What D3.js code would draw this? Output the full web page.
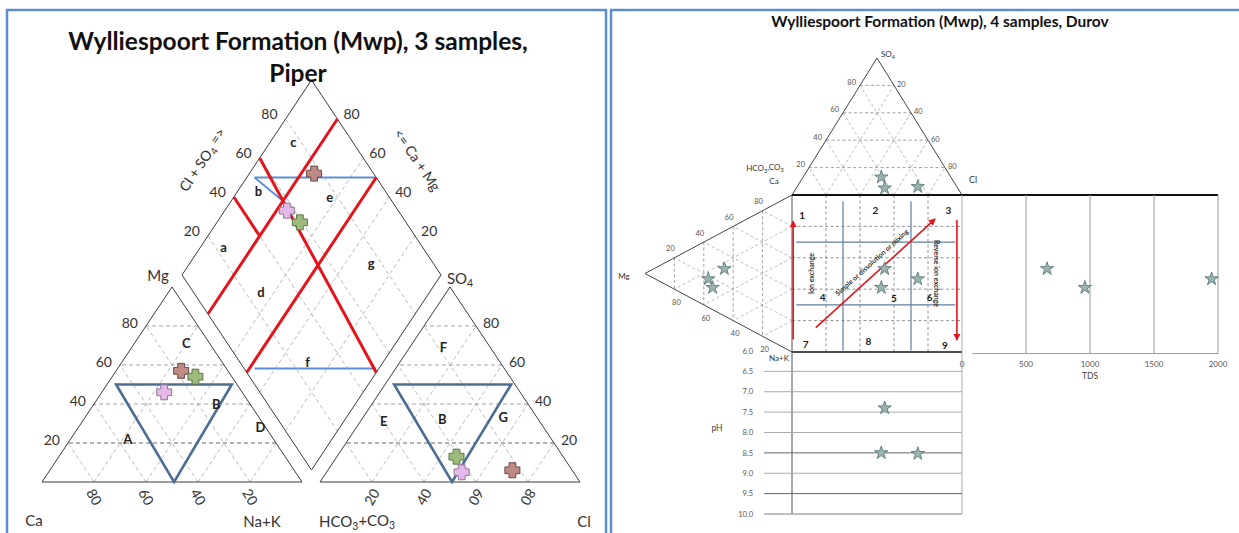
<!DOCTYPE html>
<html>
<head>
<meta charset="utf-8">
<script src="https://cdn.jsdelivr.net/npm/d3@7"></script>
<style>
  body { margin: 0; background: #fff; }
  text { font-family: Lato, "Open Sans", sans-serif; }
</style>
</head>
<body>
<script>
// ---------------- data ----------------
// three samples, same order everywhere: brown, green, pink
let sampleNames = ['brown', 'green', 'pink']
let caPct   = [18, 14, 30]
let mgPct   = [57, 54, 46]
let nakPct  = [25, 32, 24]
let hco3Pct = [23, 41, 43]
let so4Pct  = [6, 13, 5]
let clPct   = [71, 46, 52]
let tdsVals = [1950, 960, 665]
let phVals  = [8.52, 8.5, 7.4]

let gridPct = [20, 40, 60, 80]
let tdsTicks = [0, 500, 1000, 1500, 2000]
let phTicks = [6.0, 6.5, 7.0, 7.5, 8.0, 8.5, 9.0, 9.5, 10.0]

// Piper zone boundaries, diamond coords [Cl+SO4, Na+K] in %
let redLines = [
    [[0, 20], [100, 20]],
    [[0, 50], [100, 50]],
    [[40, 0], [40, 20]],
    [[60, 0], [50, 100]]
]
let blueLines = [
    [[53, 3], [100, 50]],
    [[4, 52], [51, 99]],
    [[53, 3], [58, 20]]
]
// inner triangles [Na+K or Cl, Mg or SO4]
let catTri = [[3.5, 50], [48, 50], [50.8, 0]]
let anTri = [[3.5, 50], [48.5, 50], [50.8, 0]]

// zone letters
let catZones = [['C', 20, 71], ['B', 47, 40], ['A', 22, 22], ['D', 70, 28]]
let anZones = [['F', 13, 69], ['E', 9, 31], ['B', 31, 32], ['G', 54, 33]]
let diaZones = [['c', 77, 9], ['b', 51, 8], ['e', 77, 37], ['a', 23, 9],
                ['g', 76, 70], ['d', 26, 35], ['f', 26, 71]]

// Durov square zones, [label, x%, y%]
let durZones = [['1', 6, 13], ['2', 49, 10], ['3', 92, 10], ['4', 18, 65], ['5', 60, 66],
                ['6', 81, 65], ['7', 8, 95], ['8', 45, 93], ['9', 90, 96]]

// ---------------- setup ----------------
let svgWidth = 1239
let svgHeight = 533
let svg = d3.select('body')
    .append('svg')
    .attr('width', svgWidth)
    .attr('height', svgHeight)

let markerFill = ['#bd8a84', '#9dbb7c', '#e3b9ea']
let markerStroke = ['#6e4c48', '#5d7549', '#927496']
let gridGrey = '#a8a8a8'
let edge = '#3a3a3a'

let line = d3.line()

// panel frames
svg.append('rect')
    .attr('x', 7).attr('y', 10).attr('width', 599).attr('height', 530)
    .attr('fill', 'none').attr('stroke', '#5b8fd2').attr('stroke-width', 2.5)
svg.append('path')
    .attr('d', line([[611, 540], [611, 10], [1239, 10]]))
    .attr('fill', 'none').attr('stroke', '#5b8fd2').attr('stroke-width', 2.5)

// text with subscripts: parts = [[txt, isSub], ...]
function richText(g, x, y, parts, size, anchor, rot) {
    let t = g.append('text')
        .attr('x', x).attr('y', y)
        .attr('font-size', size)
        .attr('fill', '#333')
        .attr('text-anchor', anchor || 'middle')
    if (rot) t.attr('transform', `rotate(${rot},${x},${y})`)
    let sub = false
    parts.forEach(p => {
        let ts = t.append('tspan').text(p[0])
        if (p[1] && !sub) { ts.attr('font-size', '70%').attr('dy', '0.3em'); sub = true }
        else if (!p[1] && sub) { ts.attr('dy', '-0.3em'); sub = false }
        else if (p[1]) ts.attr('font-size', '70%')
    })
    return t
}

// =================== PIPER ===================
let piper = svg.append('g')

let triY = d3.scaleLinear().domain([0, 100]).range([482, 287])
let catX = d3.scaleLinear().domain([0, 100]).range([42, 302])
let anX = d3.scaleLinear().domain([0, 100]).range([320, 580])
let diaX = d3.scaleLinear().domain([0, 200]).range([182, 441])
let diaY = d3.scaleLinear().domain([-100, 100]).range([80, 470])

let catPt = (nak, mg) => [catX(nak + mg / 2), triY(mg)]
let anPt = (cl, so4) => [anX(cl + so4 / 2), triY(so4)]
let diaPt = (s, t) => [diaX(s + t), diaY(t - s)]

// grids
function triGrid(pt) {
    gridPct.forEach(k => {
        piper.append('path').attr('d', line([pt(100 - k, k), pt(0, k)]))
            .attr('stroke', k == 20 ? '#555' : '#999').attr('stroke-dasharray', '4,3')
            .attr('stroke-width', 0.9).attr('fill', 'none')
        piper.append('path').attr('d', line([pt(k, 0), pt(k, 100 - k)]))
            .attr('stroke', gridGrey).attr('stroke-dasharray', '4,3')
            .attr('stroke-width', 0.8).attr('fill', 'none')
        piper.append('path').attr('d', line([pt(100 - k, 0), pt(0, 100 - k)]))
            .attr('stroke', gridGrey).attr('stroke-dasharray', '4,3')
            .attr('stroke-width', 0.8).attr('fill', 'none')
    })
    piper.append('path').attr('d', line([pt(0, 0), pt(100, 0), pt(0, 100)]) + 'Z')
        .attr('fill', 'none').attr('stroke', edge).attr('stroke-width', 1)
}
triGrid(catPt)
triGrid(anPt)

gridPct.forEach(k => {
    piper.append('path').attr('d', line([diaPt(k, 0), diaPt(k, 100)]))
        .attr('stroke', gridGrey).attr('stroke-dasharray', '4,3').attr('stroke-width', 0.8)
    piper.append('path').attr('d', line([diaPt(0, k), diaPt(100, k)]))
        .attr('stroke', gridGrey).attr('stroke-dasharray', '4,3').attr('stroke-width', 0.8)
})
piper.append('path')
    .attr('d', line([diaPt(0, 0), diaPt(100, 0), diaPt(100, 100), diaPt(0, 100)]) + 'Z')
    .attr('fill', 'none').attr('stroke', edge).attr('stroke-width', 1)

// inner blue triangles
piper.append('path').attr('d', line(catTri.map(d => catPt(d[0], d[1]))) + 'Z')
    .attr('fill', 'none').attr('stroke', '#4d6d92').attr('stroke-width', 2.6)
piper.append('path').attr('d', line(anTri.map(d => anPt(d[0], d[1]))) + 'Z')
    .attr('fill', 'none').attr('stroke', '#4d6d92').attr('stroke-width', 2.6)

// diamond zone lines
blueLines.forEach(l => {
    piper.append('path').attr('d', line(l.map(d => diaPt(d[0], d[1]))))
        .attr('stroke', '#5a8fd6').attr('stroke-width', 2).attr('fill', 'none')
})
redLines.forEach(l => {
    piper.append('path').attr('d', line(l.map(d => diaPt(d[0], d[1]))))
        .attr('stroke', '#e3141c').attr('stroke-width', 3).attr('fill', 'none')
})

// zone letters
function zoneText(list, pt) {
    list.forEach(z => {
        let p = pt(z[1], z[2])
        piper.append('text').attr('x', p[0]).attr('y', p[1]).attr('dy', '0.35em')
            .attr('text-anchor', 'middle').attr('font-size', 13).attr('font-weight', 'bold')
            .attr('fill', '#222').text(z[0])
    })
}
zoneText(catZones, catPt)
zoneText(anZones, anPt)
zoneText(diaZones, diaPt)

// tick labels
gridPct.forEach(k => {
    let p = catPt(0, k)
    piper.append('text').attr('x', p[0] - 8).attr('y', p[1] - 3).attr('dy', '0.35em')
        .attr('text-anchor', 'end').attr('font-size', 14).attr('fill', '#333').text(k)
    p = anPt(100 - k, k)
    piper.append('text').attr('x', p[0] + 7).attr('y', p[1] - 3).attr('dy', '0.35em')
        .attr('text-anchor', 'start').attr('font-size', 14).attr('fill', '#333').text(k)
    // base labels
    p = catPt(100 - k, 0)
    piper.append('text').attr('transform', `translate(${p[0]},${p[1] + 15}) rotate(60)`)
        .attr('dy', '0.35em').attr('text-anchor', 'middle').attr('font-size', 14)
        .attr('fill', '#333').text(k)
    p = anPt(k, 0)
    piper.append('text').attr('transform', `translate(${p[0]},${p[1] + 15}) rotate(${k < 50 ? -60 : 120})`)
        .attr('dy', '0.35em').attr('text-anchor', 'middle').attr('font-size', 14)
        .attr('fill', '#333').text(k)
    // diamond edges
    p = diaPt(k, 0)
    piper.append('text').attr('x', p[0] - 8).attr('y', p[1] - 5).attr('dy', '0.35em')
        .attr('text-anchor', 'end').attr('font-size', 14).attr('fill', '#333').text(k)
    p = diaPt(100, 100 - k)
    piper.append('text').attr('x', p[0] + 6).attr('y', p[1] - 5).attr('dy', '0.35em')
        .attr('text-anchor', 'start').attr('font-size', 14).attr('fill', '#333').text(k)
})

// axis names
richText(piper, 203, 160, [['Cl + SO', 0], ['4', 1], [' =>', 0]], 14, 'middle', -56).attr('dy', '0.35em')
richText(piper, 417, 160, [['<= Ca + Mg', 0]], 14, 'middle', 56).attr('dy', '0.35em')
richText(piper, 158, 281, [['Mg', 0]], 15, 'middle')
richText(piper, 460, 284, [['SO', 0], ['4', 1]], 15, 'middle')
richText(piper, 34, 526, [['Ca', 0]], 15, 'middle')
richText(piper, 262, 527, [['Na+K', 0]], 15, 'middle')
richText(piper, 357, 527, [['HCO', 0], ['3', 1], ['+CO', 0], ['3', 1]], 15, 'middle')
richText(piper, 584, 527, [['Cl', 0]], 15, 'middle')

// titles
piper.append('text').attr('x', 298).attr('y', 50).attr('text-anchor', 'middle')
    .attr('font-size', 24.5).attr('font-weight', 'bold').attr('fill', '#111')
    .text('Wylliespoort Formation (Mwp), 3 samples,')
piper.append('text').attr('x', 298).attr('y', 82).attr('text-anchor', 'middle')
    .attr('font-size', 24.5).attr('font-weight', 'bold').attr('fill', '#111')
    .text('Piper')

// sample markers: chunky plus
let fatCross = {
    draw(ctx, size) {
        let r = Math.sqrt(size) / 2
        let a = r * 0.45
        ctx.moveTo(-r, -a); ctx.lineTo(-a, -a); ctx.lineTo(-a, -r); ctx.lineTo(a, -r)
        ctx.lineTo(a, -a); ctx.lineTo(r, -a); ctx.lineTo(r, a); ctx.lineTo(a, a)
        ctx.lineTo(a, r); ctx.lineTo(-a, r); ctx.lineTo(-a, a); ctx.lineTo(-r, a)
        ctx.closePath()
    }
}
let cross = d3.symbol().type(fatCross).size(225)
sampleNames.forEach((n, i) => {
    let pts = [
        catPt(nakPct[i], mgPct[i]),
        anPt(clPct[i], so4Pct[i]),
        diaPt(clPct[i] + so4Pct[i], nakPct[i])
    ]
    pts.forEach(p => {
        piper.append('path').attr('d', cross())
            .attr('transform', `translate(${p[0]},${p[1]})`)
            .attr('fill', markerFill[i]).attr('stroke', markerStroke[i]).attr('stroke-width', 1)
            .attr('stroke-linejoin', 'round')
    })
})

// =================== DUROV ===================
let durov = svg.append('g')

let durX = d3.scaleLinear().domain([0, 100]).range([792, 962])      // anion position across
let durTopY = d3.scaleLinear().domain([0, 100]).range([195, 58])    // SO4 up
let durY = d3.scaleLinear().domain([0, 100]).range([195, 352])      // cation position down
let durLeftX = d3.scaleLinear().domain([0, 100]).range([792, 645])  // Mg left
let tdsX = d3.scaleLinear().domain([0, 2000]).range([962, 1218])
let phY = d3.scaleLinear().domain([6, 10]).range([351, 514])

let topPt = (cl, so4) => [durX(cl + so4 / 2), durTopY(so4)]
let leftPt = (nak, mg) => [durLeftX(mg), durY(nak + mg / 2)]

function dash(g, pts, col, w) {
    g.append('path').attr('d', line(pts)).attr('fill', 'none')
        .attr('stroke', col || '#999').attr('stroke-width', w || 0.8)
        .attr('stroke-dasharray', '3,2.5')
}

gridPct.forEach(k => {
    dash(durov, [topPt(0, k), topPt(100 - k, k)], '#888')
    dash(durov, [topPt(k, 0), topPt(k, 100 - k)], '#aaa')
    dash(durov, [topPt(100 - k, 0), topPt(0, 100 - k)], '#aaa')
    dash(durov, [leftPt(0, k), leftPt(100 - k, k)], '#888')
    dash(durov, [leftPt(k, 0), leftPt(k, 100 - k)], '#aaa')
    dash(durov, [leftPt(100 - k, 0), leftPt(0, 100 - k)], '#aaa')
    // square
    dash(durov, [[durX(k), durY(0)], [durX(k), durY(100)]], '#777')
    dash(durov, [[durX(0), durY(k)], [durX(100), durY(k)]], '#777')
})

// triangle edges
durov.append('path').attr('d', line([topPt(0, 0), topPt(0, 100), topPt(100, 0)]))
    .attr('fill', 'none').attr('stroke', '#444').attr('stroke-width', 1)
durov.append('path').attr('d', line([leftPt(0, 0), leftPt(0, 100), leftPt(100, 0)]))
    .attr('fill', 'none').attr('stroke', '#444').attr('stroke-width', 1)

// zone blue lines at 30 / 70 %
let zoneCuts = [30, 70]
zoneCuts.forEach(k => {
    durov.append('path').attr('d', line([[durX(k), durY(4)], [durX(k), durY(99)]]))
        .attr('stroke', '#5d7f9e').attr('stroke-width', 1.2)
    durov.append('path').attr('d', line([[durX(2.5), durY(k)], [durX(96), durY(k)]]))
        .attr('stroke', '#5d7f9e').attr('stroke-width', 1.2)
})

// square frame, TDS and pH panels
durov.append('path').attr('d', line([[durX(0), durY(0)], [tdsX(2000), durY(0)]]))
    .attr('stroke', '#111').attr('stroke-width', 1.8)
durov.append('path').attr('d', line([[durX(0), durY(100)], [durX(100), durY(100)]]))
    .attr('stroke', '#111').attr('stroke-width', 1.6)
durov.append('path').attr('d', line([[durX(0), durY(0)], [durX(0), phY(10)]]))
    .attr('stroke', '#555').attr('stroke-width', 1)
durov.append('path').attr('d', line([[durX(100), durY(0)], [durX(100), phY(10)]]))
    .attr('stroke', '#999').attr('stroke-width', 0.8)

tdsTicks.forEach(v => {
    if (v > 0) {
        durov.append('path').attr('d', line([[tdsX(v), durY(0)], [tdsX(v), durY(101)]]))
            .attr('stroke', '#999').attr('stroke-width', 1)
    }
    durov.append('text').attr('x', tdsX(v)).attr('y', 367).attr('text-anchor', 'middle')
        .attr('font-size', 8).attr('fill', '#555').text(v)
})
durov.append('path').attr('d', line([[tdsX(80), durY(101)], [tdsX(2000), durY(101)]]))
    .attr('stroke', '#999').attr('stroke-width', 1)
durov.append('text').attr('x', tdsX(1000)).attr('y', 379).attr('text-anchor', 'middle')
    .attr('font-size', 8.5).attr('fill', '#444').text('TDS')

phTicks.forEach(v => {
    if (v > 6) {
        durov.append('path').attr('d', line([[764, phY(v)], [durX(100), phY(v)]]))
            .attr('stroke', (v == 8.5 || v == 9.5) ? '#666' : '#aaa')
            .attr('stroke-width', v == 10 ? 1.4 : 1)
    }
    durov.append('text').attr('x', 753).attr('y', phY(v)).attr('dy', '0.35em')
        .attr('text-anchor', 'end').attr('font-size', 7.5).attr('fill', '#555')
        .text(d3.format('.1f')(v))
})
durov.append('text').attr('x', 717).attr('y', 428).attr('dy', '0.35em')
    .attr('text-anchor', 'middle').attr('font-size', 8.5).attr('fill', '#444').text('pH')

// tick labels on triangles
gridPct.forEach(k => {
    let p = topPt(0, k)
    durov.append('text').attr('x', p[0] - 4).attr('y', p[1] - 3).attr('dy', '0.35em')
        .attr('text-anchor', 'end').attr('font-size', 7.5).attr('fill', '#555').text(k)
    p = topPt(100 - k, k)
    durov.append('text').attr('x', p[0] + 3).attr('y', p[1] - 1).attr('dy', '0.35em')
        .attr('text-anchor', 'start').attr('font-size', 7.5).attr('fill', '#555').text(100 - k)
    p = leftPt(0, k)
    durov.append('text').attr('x', p[0] - 4).attr('y', p[1] - 9).attr('dy', '0.35em')
        .attr('text-anchor', 'middle').attr('font-size', 7.5).attr('fill', '#555').text(100 - k)
    p = leftPt(100 - k, k)
    durov.append('text').attr('x', p[0] + 2).attr('y', p[1] + 13).attr('dy', '0.35em')
        .attr('text-anchor', 'middle').attr('font-size', 7.5).attr('fill', '#555').text(k)
})

richText(durov, 888, 57, [['SO', 0], ['4', 1]], 8, 'middle')
richText(durov, 765, 171, [['HCO', 0], ['3', 1], [',CO', 0], ['3', 1]], 8, 'middle')
richText(durov, 774, 184, [['Ca', 0]], 8, 'middle')
richText(durov, 973, 183, [['Cl', 0]], 9, 'middle')
richText(durov, 624, 279, [['Mg', 0]], 8, 'middle')
richText(durov, 779, 361, [['Na+K', 0]], 8, 'middle')

// zone numbers
durZones.forEach(z => {
    durov.append('text').attr('x', durX(z[1])).attr('y', durY(z[2])).attr('dy', '0.35em')
        .attr('text-anchor', 'middle').attr('font-size', 10).attr('font-weight', 'bold')
        .attr('fill', '#222').text(z[0])
})

// red arrows
svg.append('defs').append('marker')
    .attr('id', 'arrow').attr('viewBox', '0 0 10 10').attr('refX', 8).attr('refY', 5)
    .attr('markerWidth', 4.5).attr('markerHeight', 4.5).attr('orient', 'auto')
    .append('path').attr('d', 'M0,0 L10,5 L0,10 Z').attr('fill', '#e3141c')
let arrows = [
    [[0.7, 92], [0.7, 17]],
    [[14, 84.5], [84, 15.5]],
    [[97, 16], [97, 92]]
]
arrows.forEach(a => {
    durov.append('path').attr('d', line(a.map(d => [durX(d[0]), durY(d[1])])))
        .attr('stroke', '#e3141c').attr('stroke-width', 1.6).attr('fill', 'none')
        .attr('marker-end', 'url(#arrow)')
})

durov.append('text').attr('transform', `translate(${durX(11.5)},${durY(50)}) rotate(-90)`)
    .attr('dy', '0.35em').attr('text-anchor', 'middle').attr('font-size', 7)
    .attr('font-weight', 'bold').attr('fill', '#333').text('Ion exchange')
durov.append('text').attr('transform', `translate(${durX(47)},${durY(43)}) rotate(-42)`)
    .attr('dy', '0.35em').attr('text-anchor', 'middle').attr('font-size', 7)
    .attr('font-weight', 'bold').attr('fill', '#333').text('Simple or dissolution or mixing')
durov.append('text').attr('transform', `translate(${durX(85)},${durY(50)}) rotate(90)`)
    .attr('dy', '0.35em').attr('text-anchor', 'middle').attr('font-size', 7)
    .attr('font-weight', 'bold').attr('fill', '#333').text('Reverse ion exchange')

durov.append('text').attr('x', 940).attr('y', 27).attr('text-anchor', 'middle')
    .attr('font-size', 15.5).attr('font-weight', 'bold').attr('fill', '#111')
    .text('Wylliespoort Formation (Mwp), 4 samples, Durov')

// stars
let star = d3.symbol().type(d3.symbolStar).size(55)
sampleNames.forEach((n, i) => {
    let ax = durX(clPct[i] + so4Pct[i] / 2)
    let cy = durY(nakPct[i] + mgPct[i] / 2)
    let pts = [
        topPt(clPct[i], so4Pct[i]),
        leftPt(nakPct[i], mgPct[i]),
        [ax, cy],
        [tdsX(tdsVals[i]), cy],
        [ax, phY(phVals[i])]
    ]
    pts.forEach(p => {
        durov.append('path').attr('d', star())
            .attr('transform', `translate(${p[0]},${p[1]})`)
            .attr('fill', '#9bb3b1').attr('stroke', '#5b7c7a').attr('stroke-width', 0.9)
    })
})
</script>
</body>
</html>
